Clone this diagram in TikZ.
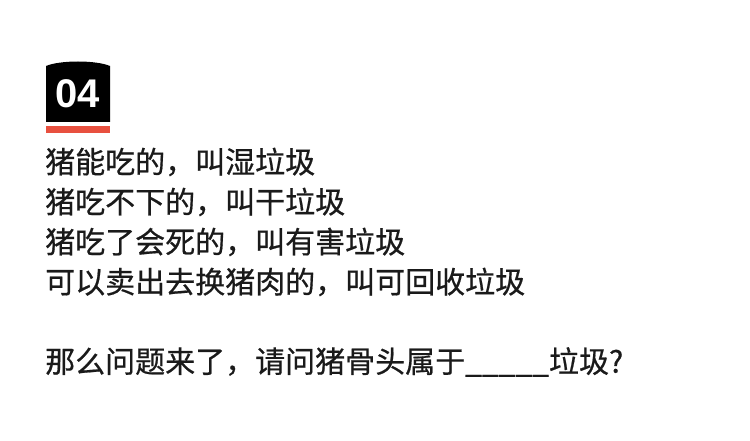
\documentclass[tikz,border=0pt]{standalone}
\usepackage{fontspec}
\setmainfont{Noto Sans CJK SC}[FakeBold=0.6]
\newfontfamily\numfont{Liberation Sans}
\definecolor{redbar}{HTML}{E8503F}
\definecolor{txt}{HTML}{1A1A1A}
\begin{document}
\begin{tikzpicture}[x=1pt,y=-1pt,
  line/.style={anchor=west,inner sep=0pt,font=\fontsize{30}{32}\selectfont,text=txt}]
\useasboundingbox[fill=white] (0,0) rectangle (750,441);
\fill[black] (46,122) -- (46,66) .. controls (60,60) and (96,60) .. (110,66) -- (110,122) -- cycle;
\node[text=white,font=\numfont\bfseries\fontsize{40}{40}\selectfont,inner sep=0pt] (num) at (78,94) {04};
\fill[redbar] (46,126) rectangle (110,133);
\node[line] (l1) at (45,162) {猪能吃的，叫湿垃圾};
\node[line] (l2) at (45,202) {猪吃不下的，叫干垃圾};
\node[line] (l3) at (45,242) {猪吃了会死的，叫有害垃圾};
\node[line] (l4) at (45,282) {可以卖出去换猪肉的，叫可回收垃圾};
\node[line] (l5) at (45,362) {那么问题来了，请问猪骨头属于\_\_\_\_\_垃圾?};
\end{tikzpicture}
\end{document}
